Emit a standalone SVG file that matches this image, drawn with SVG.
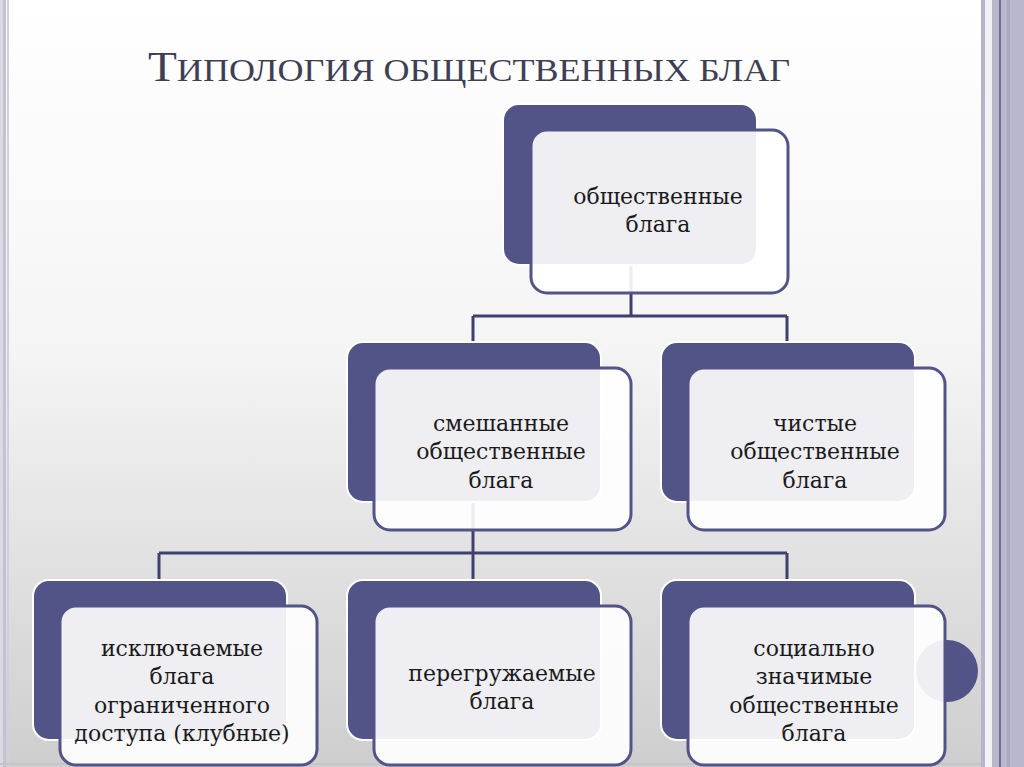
<svg xmlns="http://www.w3.org/2000/svg" width="1024" height="767" viewBox="0 0 1024 767">
<defs>
<linearGradient id="bg" x1="0" y1="0" x2="0" y2="1">
<stop offset="0" stop-color="#FFFFFF"/>
<stop offset="0.45" stop-color="#F5F5F5"/>
<stop offset="1" stop-color="#CECECE"/>
</linearGradient>
<style>
.back{fill:#525488;stroke:#FFFFFF;stroke-width:2}
.front{fill:#FFFFFF;fill-opacity:0.9;stroke:#525488;stroke-width:3}
.conn{fill:none;stroke:#3E4070;stroke-width:3}
.lbl{font-family:"DejaVu Serif","Liberation Serif",serif;font-size:22px;fill:#1A1A1A;text-anchor:middle}
.title{font-family:"Liberation Serif","DejaVu Serif",serif;fill:#3F3F54}
</style>
</defs>
<rect x="0" y="0" width="1024" height="767" fill="url(#bg)"/>
<!-- frame stripes -->
<rect x="0" y="0" width="3" height="767" fill="#DADAE2"/>
<rect x="3" y="0" width="3" height="767" fill="#C2C2D0"/>
<rect x="7" y="0" width="2" height="767" fill="#D0D0DC"/>
<rect x="981" y="0" width="4" height="767" fill="#B4B4CA"/>
<rect x="985" y="0" width="7" height="767" fill="#F2F2F4"/>
<rect x="992" y="0" width="32" height="767" fill="#B8B8CC"/>
<rect x="999" y="0" width="2" height="767" fill="#6E6E96"/>
<rect x="1007" y="0" width="3" height="767" fill="#A8A8C0"/>
<rect x="0" y="763" width="981" height="2" fill="#C4C4CC"/>

<text class="title" x="148" y="81" textLength="642" lengthAdjust="spacingAndGlyphs"><tspan font-size="42">Т</tspan><tspan font-size="32">ИПОЛОГИЯ ОБЩЕСТВЕННЫХ БЛАГ</tspan></text>

<g id="connectors">
<path class="conn" d="M631,265 V316 M473,316 H787 M473,316 V342 M787,316 V342"/>
<path class="conn" d="M473,502 V553 M159,553 H787 M159,553 V580 M473,553 V580 M787,553 V580"/>
</g>

<circle cx="947" cy="671" r="31" fill="#525488"/>

<g id="node-public-goods">
<rect class="back" x="503" y="104" width="254" height="161" rx="16"/>
<rect class="front" x="531" y="130" width="257" height="163" rx="16"/>
<text class="lbl" x="658" y="204">общественные</text>
<text class="lbl" x="658" y="232">блага</text>
</g>

<g id="node-mixed">
<rect class="back" x="347" y="342" width="254" height="160" rx="16"/>
<rect class="front" x="374" y="368" width="257" height="162" rx="16"/>
<text class="lbl" x="501" y="431">смешанные</text>
<text class="lbl" x="501" y="459">общественные</text>
<text class="lbl" x="501" y="488">блага</text>
</g>

<g id="node-pure">
<rect class="back" x="661" y="342" width="254" height="160" rx="16"/>
<rect class="front" x="688" y="368" width="257" height="162" rx="16"/>
<text class="lbl" x="815" y="431">чистые</text>
<text class="lbl" x="815" y="459">общественные</text>
<text class="lbl" x="815" y="488">блага</text>
</g>

<g id="node-club">
<rect class="back" x="33" y="580" width="254" height="160" rx="16"/>
<rect class="front" x="60" y="606" width="257" height="159" rx="16"/>
<text class="lbl" x="182" y="656">исключаемые</text>
<text class="lbl" x="182" y="684">блага</text>
<text class="lbl" x="182" y="713">ограниченного</text>
<text class="lbl" x="182" y="741">доступа (клубные)</text>
</g>

<g id="node-congestible">
<rect class="back" x="347" y="580" width="254" height="160" rx="16"/>
<rect class="front" x="374" y="606" width="257" height="159" rx="16"/>
<text class="lbl" x="502" y="681">перегружаемые</text>
<text class="lbl" x="502" y="709">блага</text>
</g>

<g id="node-social">
<rect class="back" x="661" y="580" width="254" height="160" rx="16"/>
<rect class="front" x="688" y="606" width="257" height="159" rx="16"/>
<text class="lbl" x="814" y="656">социально</text>
<text class="lbl" x="814" y="684">значимые</text>
<text class="lbl" x="814" y="713">общественные</text>
<text class="lbl" x="814" y="741">блага</text>
</g>
</svg>
